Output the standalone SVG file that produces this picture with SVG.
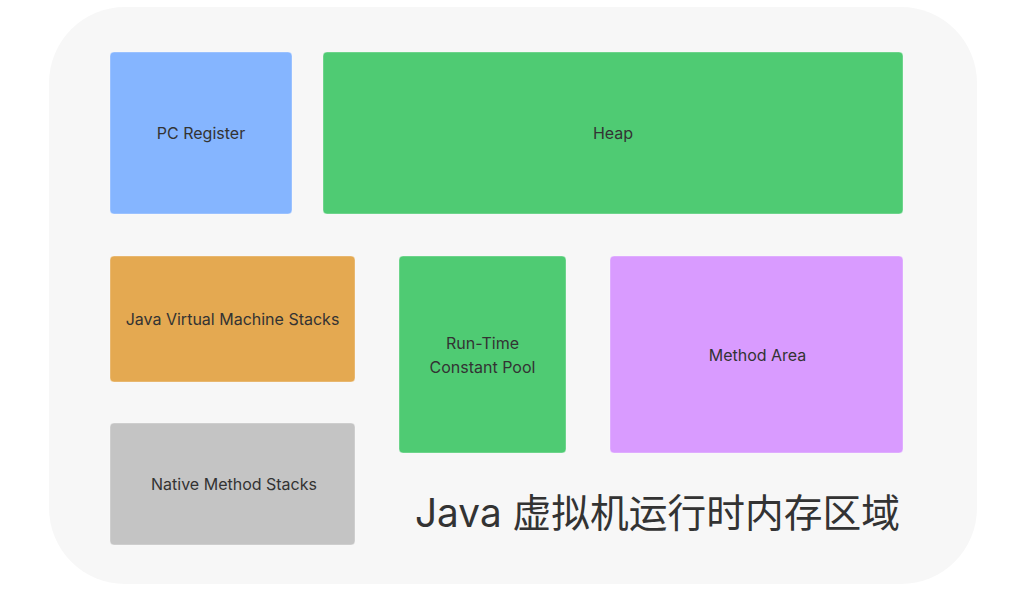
<svg xmlns="http://www.w3.org/2000/svg" width="1024" height="591" viewBox="0 0 1024 591">
<style>
.box{stroke:rgba(255,255,255,0.35);stroke-width:1}
.lbl{font-family:Inter,"Noto Sans",sans-serif;font-size:16px;fill:#333333;text-anchor:middle}
.title{font-family:Inter,"Noto Sans CJK SC",sans-serif;font-size:39px;fill:#333333}
</style>
<rect width="1024" height="591" fill="#ffffff"/>
<rect id="frame" x="49" y="7" width="928" height="577" rx="76" ry="76" fill="#f7f7f7"/>
<g id="connectors"></g>
<g id="pc-register">
<rect class="box" x="110" y="52" width="182" height="162" rx="4" fill="#85b5ff"/>
<text class="lbl" x="201" y="139">PC Register</text>
</g>
<g id="heap">
<rect class="box" x="323" y="52" width="580" height="162" rx="4" fill="#4fcb73"/>
<text class="lbl" x="613" y="139">Heap</text>
</g>
<g id="jvm-stacks">
<rect class="box" x="110" y="256" width="245" height="126" rx="4" fill="#e4a951"/>
<text class="lbl" x="232.5" y="325">Java Virtual Machine Stacks</text>
</g>
<g id="runtime-constant-pool">
<rect class="box" x="399" y="256" width="167" height="197" rx="4" fill="#4fcb73"/>
<text class="lbl" x="482.5" y="349">Run-Time</text>
<text class="lbl" x="482.5" y="373">Constant Pool</text>
</g>
<g id="method-area">
<rect class="box" x="610" y="256" width="293" height="197" rx="4" fill="#d99bff"/>
<text class="lbl" x="757.5" y="361">Method Area</text>
</g>
<g id="native-stacks">
<rect class="box" x="110" y="423" width="245" height="122" rx="4" fill="#c4c4c4"/>
<text class="lbl" x="234" y="490">Native Method Stacks</text>
</g>
<g id="title">
<text class="title" x="415" y="527" textLength="485" lengthAdjust="spacingAndGlyphs">Java 虚拟机运行时内存区域</text>
</g>
</svg>
